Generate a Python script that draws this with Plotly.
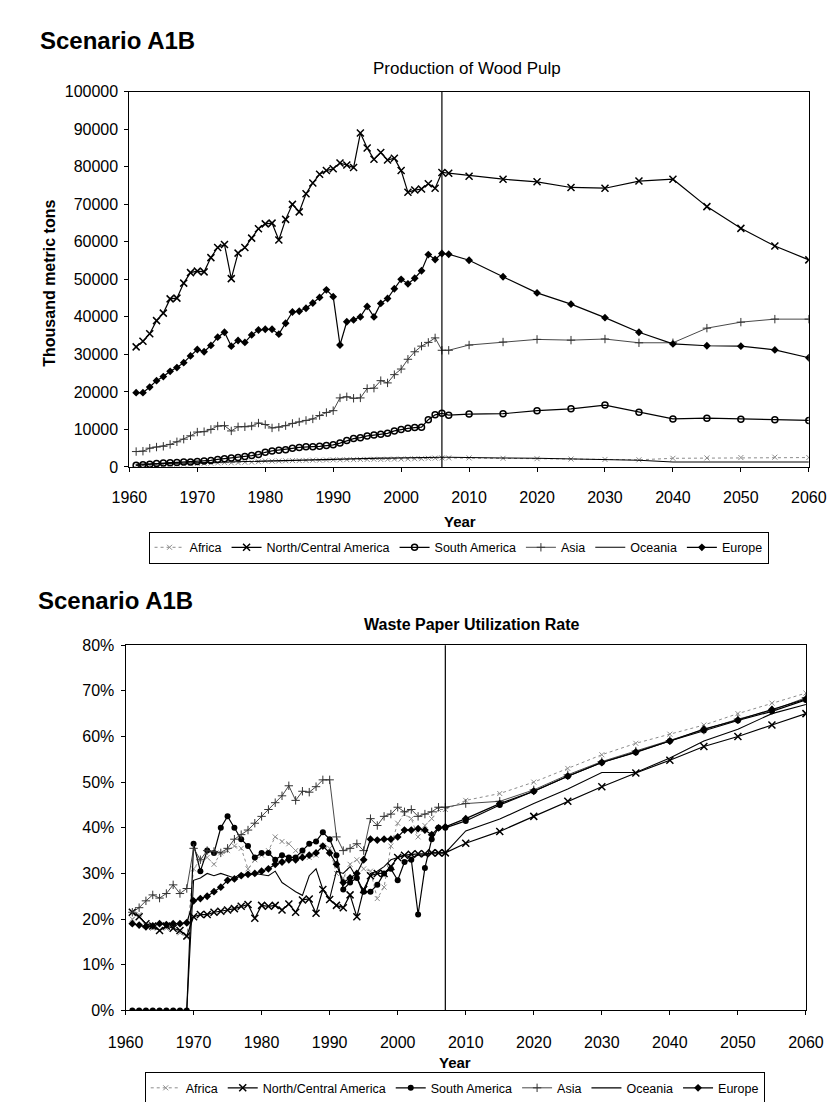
import plotly.graph_objects as go

# ---------------- data ----------------
hist_years = list(range(1961, 2007))
proj_years = [2007, 2010, 2015, 2020, 2025, 2030, 2035, 2040, 2045, 2050, 2055, 2060]
x_ticks = [1960, 1970, 1980, 1990, 2000, 2010, 2020, 2030, 2040, 2050, 2060]
regions = ["Africa", "North/Central America", "South America", "Asia", "Oceania", "Europe"]
pulp_divider_year = 2006
waste_divider_year = 2007

# Production of Wood Pulp (thousand metric tons)
pulp_africa_hist = [400, 450, 500, 550, 600, 650, 700, 750, 800, 900,
                    950, 1000, 1050, 1150, 1100, 1150, 1250, 1300, 1400, 1600,
                    1550, 1600, 1650, 1700, 1700, 1750, 1800, 1800, 1850, 1900,
                    1900, 1950, 1950, 2000, 2000, 2050, 2000, 2050, 2100, 2100,
                    2150, 2200, 2200, 2300, 2350, 2400]
pulp_africa_proj = [2400, 2400, 2300, 2200, 2100, 2000, 1900, 2300, 2400, 2500, 2600, 2500]

pulp_nca_hist = [32000, 33500, 35500, 39000, 41000, 44800, 45000, 49000, 51800, 52200,
                 52000, 55800, 58500, 59300, 50200, 57000, 58500, 61000, 63500, 64800,
                 65000, 60500, 66000, 70000, 68000, 72800, 75700, 78000, 79000, 79500,
                 81000, 80500, 79800, 89000, 85000, 82000, 83800, 81800, 82300, 79000,
                 73200, 73800, 74100, 75500, 74300, 78500]
pulp_nca_proj = [78300, 77500, 76700, 76000, 74500, 74300, 76200, 76700, 69400, 63600, 58900, 55200]

pulp_sa_hist = [430, 600, 700, 900, 1040, 1130, 1200, 1300, 1300, 1480,
                1570, 1740, 2000, 2170, 2350, 2500, 2800, 3040, 3300, 3900,
                4260, 4430, 4600, 4960, 5200, 5400, 5400, 5500, 5700, 5900,
                6350, 7040, 7560, 7800, 8260, 8500, 8700, 8960, 9600, 10000,
                10300, 10500, 10600, 12600, 13900, 14300]
pulp_sa_proj = [13800, 14100, 14200, 15000, 15500, 16500, 14600, 12800, 13000, 12700, 12600, 12400]

pulp_asia_hist = [4100, 4200, 5000, 5300, 5500, 6000, 6700, 7400, 8300, 9300,
                  9400, 10000, 10900, 11000, 9600, 10700, 10700, 10900, 11700, 11300,
                  10400, 10600, 11000, 11600, 12000, 12400, 12800, 13700, 14500, 15000,
                  18400, 18700, 18300, 18400, 20900, 21000, 23000, 22400, 24600, 26100,
                  28700, 30700, 32200, 33200, 34400, 31100]
pulp_asia_proj = [31100, 32500, 33300, 34000, 33800, 34100, 33100, 33100, 37000, 38600, 39400, 39400]

pulp_oceania_hist = [700, 750, 800, 850, 900, 950, 1000, 1050, 1100, 1150,
                     1200, 1250, 1300, 1350, 1300, 1400, 1450, 1500, 1600, 1650,
                     1650, 1700, 1750, 1800, 1850, 1900, 1950, 2000, 2050, 2100,
                     2150, 2150, 2200, 2250, 2300, 2300, 2350, 2350, 2400, 2450,
                     2450, 2500, 2500, 2550, 2600, 2600]
pulp_oceania_proj = [2600, 2600, 2400, 2300, 2200, 2100, 1800, 1300, 1300, 1300, 1300, 1300]

pulp_europe_hist = [19800, 19800, 21300, 23000, 24100, 25500, 26500, 27800, 29600, 31300,
                    30700, 32400, 34600, 35900, 32200, 33700, 33200, 35200, 36500, 36700,
                    36700, 35400, 38300, 41300, 41500, 42300, 43700, 45200, 47200, 45400,
                    32500, 38700, 39200, 40000, 42800, 40000, 43600, 44900, 47500, 50000,
                    48800, 50300, 52300, 56600, 55300, 56900]
pulp_europe_proj = [56700, 55100, 50700, 46400, 43400, 39800, 35900, 32800, 32300, 32200, 31200, 29100]

# Waste Paper Utilization Rate (%)
waste_africa_hist = [20.0, 21.0, 18.5, 18.0, 17.5, 18.0, 18.0, 17.0, 16.0, 31.0,
                     33.0, 33.5, 32.0, 34.5, 35.0, 36.0, 35.5, 31.0, 33.0, 34.0,
                     35.0, 38.0, 37.0, 36.5, 35.0, 34.0, 33.5, 34.0, 36.0, 35.5,
                     30.0, 29.0, 32.0, 33.0, 31.0, 30.5, 24.5, 27.0, 36.0, 41.0,
                     43.0, 42.0, 38.0, 40.5, 42.0, 44.0]
waste_africa_proj = [44.0, 46.0, 47.5, 50.0, 53.0, 56.0, 58.5, 60.5, 62.5, 65.0, 67.3, 69.5]

waste_nca_hist = [21.5, 20.5, 19.0, 18.5, 17.5, 18.5, 18.0, 17.5, 16.3, 20.5,
                  21.0, 21.0, 21.5, 21.7, 22.0, 22.3, 22.8, 23.2, 20.2, 23.0,
                  22.8, 23.0, 22.0, 23.3, 21.5, 24.2, 24.4, 21.3, 26.5, 24.3,
                  23.0, 22.5, 25.3, 20.5, 26.5, 29.5, 30.0, 30.0, 31.5, 33.5,
                  34.0, 34.2, 34.3, 34.3, 34.5, 34.5]
waste_nca_proj = [34.5, 36.6, 39.2, 42.5, 45.8, 49.0, 52.0, 54.8, 57.8, 60.0, 62.5, 65.0]

waste_sa_hist = [0, 0, 0, 0, 0, 0, 0, 0, 0, 36.5,
                 30.5, 35.0, 34.5, 40.0, 42.5, 40.0, 37.5, 36.0, 33.5, 34.5,
                 34.5, 33.0, 34.0, 33.5, 33.5, 35.0, 36.5, 37.0, 39.0, 37.5,
                 34.0, 26.5, 28.0, 29.0, 26.0, 26.0, 27.5, 30.0, 31.0, 28.5,
                 32.5, 33.0, 21.0, 31.2, 37.5, 40.0]
waste_sa_proj = [40.0, 41.5, 45.0, 48.0, 51.3, 54.3, 56.5, 59.0, 61.3, 63.5, 65.5, 68.0]

waste_asia_hist = [21.5, 22.5, 24.0, 25.3, 24.6, 25.6, 27.5, 25.6, 26.7, 35.5,
                   33.0, 35.0, 34.8, 34.5, 35.5, 37.5, 38.5, 39.5, 41.0, 42.5,
                   44.0, 45.5, 47.0, 49.2, 46.0, 48.0, 47.8, 49.0, 50.5, 50.5,
                   38.0, 35.0, 35.5, 36.5, 35.0, 42.0, 40.5, 42.5, 43.0, 44.5,
                   43.5, 44.0, 42.5, 43.0, 43.5, 44.5]
waste_asia_proj = [44.5, 45.3, 45.8, 48.3, 51.6, 54.5, 56.8, 59.1, 61.4, 63.8, 65.7, 68.5]

waste_oceania_hist = [0, 0, 0, 0, 0, 0, 0, 0, 0, 28.5,
                      29.0, 30.0, 29.5, 30.0, 29.5, 29.0, 30.0, 29.5, 30.0, 29.8,
                      29.5, 30.5, 28.0, 27.0, 26.0, 25.2, 29.5, 31.0, 26.5, 24.5,
                      30.5, 30.0, 31.5, 29.0, 25.5, 30.0, 30.5, 31.5, 33.0, 33.5,
                      34.0, 33.5, 34.0, 34.0, 34.5, 34.5]
waste_oceania_proj = [34.5, 39.3, 41.9, 45.3, 48.5, 52.1, 52.1, 55.3, 59.0, 61.6, 65.0, 67.0]

waste_europe_hist = [19.0, 18.7, 18.3, 18.5, 19.0, 18.8, 19.0, 19.0, 19.2, 24.0,
                     24.5, 25.0, 26.0, 27.0, 28.5, 28.8, 29.5, 29.8, 30.0, 30.5,
                     31.0, 32.0, 32.5, 33.0, 33.0, 33.5, 34.0, 34.5, 36.0, 34.5,
                     32.0, 28.0, 29.0, 30.0, 33.0, 37.5, 37.3, 37.5, 37.5, 38.0,
                     39.5, 39.5, 39.8, 39.5, 38.5, 40.0]
waste_europe_proj = [40.2, 42.0, 45.3, 48.0, 51.3, 54.3, 56.6, 59.0, 61.6, 63.6, 65.9, 68.2]

pulp_data = {
    "Africa": (pulp_africa_hist, pulp_africa_proj),
    "North/Central America": (pulp_nca_hist, pulp_nca_proj),
    "South America": (pulp_sa_hist, pulp_sa_proj),
    "Asia": (pulp_asia_hist, pulp_asia_proj),
    "Oceania": (pulp_oceania_hist, pulp_oceania_proj),
    "Europe": (pulp_europe_hist, pulp_europe_proj),
}
waste_data = {
    "Africa": (waste_africa_hist, waste_africa_proj),
    "North/Central America": (waste_nca_hist, waste_nca_proj),
    "South America": (waste_sa_hist, waste_sa_proj),
    "Asia": (waste_asia_hist, waste_asia_proj),
    "Oceania": (waste_oceania_hist, waste_oceania_proj),
    "Europe": (waste_europe_hist, waste_europe_proj),
}

# ---------------- styles ----------------
FONT = "Liberation Sans, Arial, sans-serif"
GRAY = "#8c8c8c"


def style(region, chart):
    if region == "Africa":
        return dict(mode="lines+markers", line=dict(color=GRAY, width=1, dash="dot"),
                    marker=dict(symbol="x-thin-open", size=5, color=GRAY, line=dict(width=1, color=GRAY)))
    if region == "North/Central America":
        return dict(mode="lines+markers", line=dict(color="black", width=1.2),
                    marker=dict(symbol="x-thin-open", size=7, color="black", line=dict(width=1.5, color="black")))
    if region == "South America":
        if chart == "pulp":
            return dict(mode="lines+markers", line=dict(color="black", width=1.2),
                        marker=dict(symbol="circle-open", size=6, color="black", line=dict(width=1.5, color="black")))
        return dict(mode="lines+markers", line=dict(color="black", width=1.2),
                    marker=dict(symbol="circle", size=6, color="black"))
    if region == "Asia":
        return dict(mode="lines+markers", line=dict(color="#333333", width=0.9),
                    marker=dict(symbol="cross-thin-open", size=6, color="#333333", line=dict(width=1, color="#333333")))
    if region == "Oceania":
        return dict(mode="lines", line=dict(color="black", width=1.1))
    return dict(mode="lines+markers", line=dict(color="black", width=1.2),
                marker=dict(symbol="diamond", size=6, color="black"))


fig = go.Figure()
for r in regions:
    h, p = pulp_data[r]
    fig.add_trace(go.Scatter(x=hist_years + proj_years, y=h + p, name=r,
                             xaxis="x", yaxis="y", legend="legend", **style(r, "pulp")))
for r in regions:
    h, p = waste_data[r]
    fig.add_trace(go.Scatter(x=hist_years + proj_years, y=h + p, name=r,
                             xaxis="x2", yaxis="y2", legend="legend2", **style(r, "waste")))

W, H = 837, 1102


def px_x(v):
    return v / W


def px_y(v):
    return 1 - v / H


axis_common = dict(showline=True, linecolor="black", linewidth=1, mirror=True, showgrid=False,
                   zeroline=False, ticks="outside", ticklen=4, tickcolor="black",
                   tickfont=dict(family=FONT, size=16, color="black"))

legend_common = dict(orientation="h", xanchor="center", yanchor="middle",
                     bordercolor="black", borderwidth=1, bgcolor="rgba(255,255,255,0)",
                     font=dict(family=FONT, size=12.5, color="black"), tracegroupgap=0, itemwidth=30)

fig.update_layout(
    width=W, height=H, margin=dict(l=0, r=0, t=0, b=0),
    paper_bgcolor="white", plot_bgcolor="white", autosize=False,
    xaxis=dict(domain=[px_x(108), px_x(818)], range=[1960, 2060], tickvals=x_ticks,
               anchor="y", ticklabelstandoff=12, **axis_common),
    yaxis=dict(domain=[px_y(458), px_y(77)], range=[0, 100000], dtick=10000, tickformat="d",
               anchor="x", ticklabelstandoff=3, **axis_common),
    xaxis2=dict(domain=[px_x(104), px_x(815)], range=[1960, 2060], tickvals=x_ticks,
                anchor="y2", ticklabelstandoff=13, **axis_common),
    yaxis2=dict(domain=[px_y(1010), px_y(639)], range=[0, 80], dtick=10, ticksuffix="%",
                anchor="x2", ticklabelstandoff=3, **axis_common),
    legend=dict(x=px_x(452), y=px_y(540), **legend_common),
    legend2=dict(x=px_x(448), y=px_y(1089), **legend_common),
    showlegend=True,
)

fig.add_shape(type="line", xref="x", yref="y domain", x0=pulp_divider_year, x1=pulp_divider_year,
              y0=0, y1=1, line=dict(color="black", width=1.2))
fig.add_shape(type="line", xref="x2", yref="y2 domain", x0=waste_divider_year, x1=waste_divider_year,
              y0=0, y1=1, line=dict(color="black", width=1.2))

annots = [
    dict(text="<b>Scenario A1B</b>", x=px_x(13), y=px_y(25), xanchor="left", yanchor="middle",
         font=dict(family=FONT, size=24, color="black")),
    dict(text="Production of Wood Pulp", x=px_x(461), y=px_y(53), xanchor="center", yanchor="middle",
         font=dict(family=FONT, size=17, color="black")),
    dict(text="<b>Thousand metric tons</b>", x=px_x(25), y=px_y(271), xanchor="center", yanchor="middle",
         textangle=-90, font=dict(family=FONT, size=16, color="black")),
    dict(text="<b>Year</b>", x=px_x(453), y=px_y(513), xanchor="center", yanchor="middle",
         font=dict(family=FONT, size=15, color="black")),
    dict(text="<b>Scenario A1B</b>", x=px_x(10), y=px_y(594), xanchor="left", yanchor="middle",
         font=dict(family=FONT, size=24, color="black")),
    dict(text="<b>Waste Paper Utilization Rate</b>", x=px_x(466), y=px_y(618), xanchor="center",
         yanchor="middle", font=dict(family=FONT, size=16, color="black")),
    dict(text="<b>Year</b>", x=px_x(448), y=px_y(1063), xanchor="center", yanchor="middle",
         font=dict(family=FONT, size=15, color="black")),
]
for a in annots:
    fig.add_annotation(xref="paper", yref="paper", showarrow=False, **a)

fig.write_html("out.html")
